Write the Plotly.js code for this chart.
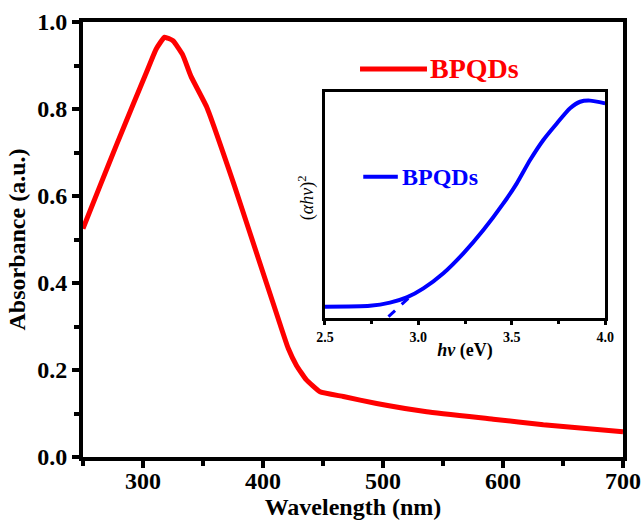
<!DOCTYPE html>
<html>
<head>
<meta charset="utf-8">
<script src="https://cdn.plot.ly/plotly-3.0.1.min.js"></script>
<style>html,body{margin:0;padding:0;background:#fff}#chart{width:643px;height:522px}</style>
</head>
<body>
<div id="chart"></div>
<script>
// Main absorbance spectrum (nm, a.u.)
const wavelength = [250, 264, 278, 292, 303, 311, 318, 325, 333, 340, 353, 376, 389, 403, 414, 421, 428, 436, 447.5, 467, 494.7, 536.4, 591.9, 633.6, 700];
const absorbance = [0.525, 0.622, 0.718, 0.812, 0.885, 0.938, 0.965, 0.957, 0.925, 0.875, 0.805, 0.625, 0.516, 0.399, 0.307, 0.250, 0.210, 0.178, 0.150, 0.139, 0.123, 0.104, 0.087, 0.074, 0.058];

// Inset Tauc plot (eV, arbitrary)
const photonEnergy = [2.5, 2.741, 2.848, 2.938, 3.027, 3.134, 3.241, 3.348, 3.455, 3.527, 3.598, 3.669, 3.741, 3.812, 3.866, 3.919, 4.0];
const taucValue = [0.050, 0.054, 0.068, 0.091, 0.131, 0.198, 0.286, 0.389, 0.507, 0.596, 0.699, 0.788, 0.861, 0.928, 0.957, 0.962, 0.950];
const tangentEnergy = [2.84, 2.955];
const tangentValue = [0.006, 0.094];

const seriesName = "BPQDs";
const xTicks = [300, 400, 500, 600, 700];
const yTicks = [0.0, 0.2, 0.4, 0.6, 0.8, 1.0];
const yTickText = ["0.0", "0.2", "0.4", "0.6", "0.8", "1.0"];
const insetTicks = [2.5, 3.0, 3.5, 4.0];
const insetTickText = ["2.5", "3.0", "3.5", "4.0"];

const FONT = "Liberation Serif, Times New Roman, serif";

const traces = [
  {x: wavelength, y: absorbance, type: "scatter", mode: "lines", name: seriesName,
   line: {color: "#ff0000", width: 5, shape: "spline", smoothing: 0.4}, xaxis: "x", yaxis: "y"},
  {x: photonEnergy, y: taucValue, type: "scatter", mode: "lines", name: seriesName,
   line: {color: "#0000ff", width: 4, shape: "spline", smoothing: 0.6}, xaxis: "x2", yaxis: "y2"},
  {x: tangentEnergy, y: tangentValue, type: "scatter", mode: "lines",
   line: {color: "#0000ff", width: 3, dash: "dash"}, xaxis: "x2", yaxis: "y2"}
];

const layout = {
  width: 643, height: 522,
  margin: {l: 83, r: 20, t: 22, b: 65},
  showlegend: false,
  paper_bgcolor: "#fff", plot_bgcolor: "#fff",
  font: {family: FONT, color: "#000"},
  xaxis: {
    domain: [0, 1], range: [250, 700],
    tickvals: xTicks, ticks: "outside", ticklen: 7, tickwidth: 4, tickcolor: "#000",
    ticklabelstandoff: -8,
    minor: {dtick: 50, tick0: 250, ticks: "outside", ticklen: 5, tickwidth: 4, tickcolor: "#000"},
    showline: true, linewidth: 4, linecolor: "#000", mirror: true,
    showgrid: false, zeroline: false,
    tickfont: {family: FONT, size: 24, color: "#000", weight: "bold"},
    title: {text: "<b>Wavelength (nm)</b>", font: {family: FONT, size: 24, color: "#000"}, standoff: 4}
  },
  yaxis: {
    domain: [0, 1], range: [0, 1.0],
    tickvals: yTicks, ticktext: yTickText, ticks: "outside", ticklen: 7, tickwidth: 4, tickcolor: "#000",
    minor: {dtick: 0.1, tick0: 0, ticks: "outside", ticklen: 5, tickwidth: 4, tickcolor: "#000"},
    showline: true, linewidth: 4, linecolor: "#000", mirror: true,
    showgrid: false, zeroline: false,
    tickfont: {family: FONT, size: 24, color: "#000", weight: "bold"},
    title: {text: "<b>Absorbance (a.u.)</b>", font: {family: FONT, size: 24, color: "#000"}, standoff: 6}
  },
  xaxis2: {
    anchor: "y2", domain: [0.448, 0.967], range: [2.5, 4.0],
    tickvals: insetTicks, ticktext: insetTickText, ticks: "outside", ticklen: 4, tickwidth: 3, tickcolor: "#000",
    minor: {dtick: 0.25, tick0: 2.5, ticks: "outside", ticklen: 3, tickwidth: 3, tickcolor: "#000"},
    showline: true, linewidth: 3, linecolor: "#000", mirror: true,
    showgrid: false, zeroline: false,
    tickfont: {family: FONT, size: 14, color: "#000", weight: "bold"},
    title: {text: "<b><i>hν</i> (eV)</b>", font: {family: FONT, size: 18, color: "#000"}, standoff: 0}
  },
  yaxis2: {
    anchor: "x2", domain: [0.3195, 0.839], range: [0, 1.0],
    showticklabels: false, ticks: "",
    showline: true, linewidth: 3, linecolor: "#000", mirror: true,
    showgrid: false, zeroline: false
  },
  shapes: [
    {type: "line", xref: "paper", yref: "paper", x0: 0.513, x1: 0.637, y0: 0.892, y1: 0.892,
     line: {color: "#ff0000", width: 5}},
    {type: "line", xref: "paper", yref: "paper", x0: 0.519, x1: 0.583, y0: 0.644, y1: 0.644,
     line: {color: "#0000ff", width: 4}}
  ],
  annotations: [
    {xref: "paper", yref: "paper", x: 0.639, y: 0.892, xanchor: "left", yanchor: "middle",
     text: "<b>" + seriesName + "</b>", showarrow: false, font: {family: FONT, size: 28, color: "#ff0000"}},
    {xref: "paper", yref: "paper", x: 0.587, y: 0.644, xanchor: "left", yanchor: "middle",
     text: "<b>" + seriesName + "</b>", showarrow: false, font: {family: FONT, size: 24, color: "#0000ff"}},
    {xref: "paper", yref: "paper", x: 0.415, y: 0.595, xanchor: "center", yanchor: "middle", textangle: -90,
     text: "(<i>αhν</i>)<sup>2</sup>", showarrow: false, font: {family: FONT, size: 18, color: "#000"}}
  ]
};

Plotly.newPlot("chart", traces, layout, {displayModeBar: false, staticPlot: true});
</script>
</body>
</html>
